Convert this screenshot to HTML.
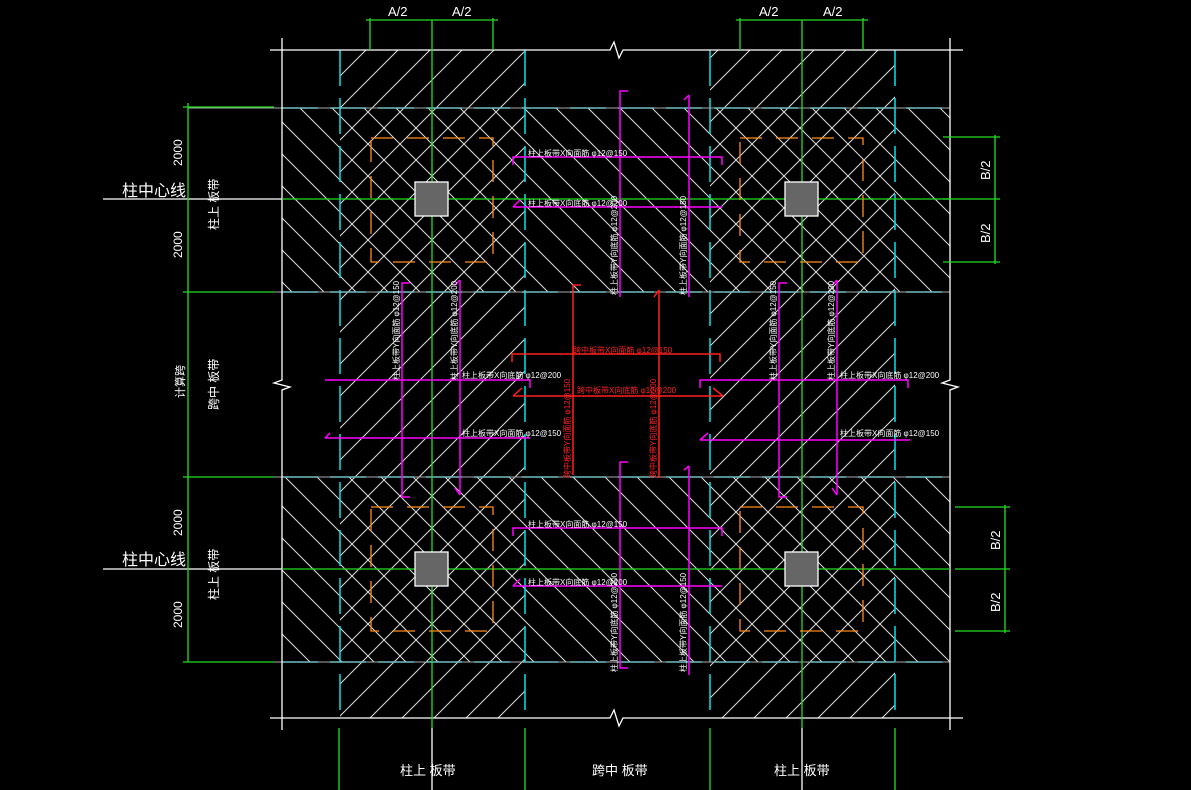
<!DOCTYPE html>
<html><head><meta charset="utf-8"><style>
html,body{margin:0;padding:0;background:#000;width:1191px;height:790px;overflow:hidden}
svg{display:block}
text{font-family:"Liberation Sans","Noto Sans CJK SC",sans-serif;fill:#fff}
</style></head><body>
<svg width="1191" height="790" viewBox="0 0 1191 790" xmlns="http://www.w3.org/2000/svg">
<defs>
<pattern id="f" width="32" height="32" patternUnits="userSpaceOnUse"><path d="M-8 8L8 -8M0 32L32 0M24 40L40 24" stroke="#ddd" stroke-width="1"/></pattern>
<pattern id="b" width="32" height="32" patternUnits="userSpaceOnUse"><path d="M-8 24L8 40M0 0L32 32M24 -8L40 8" stroke="#ddd" stroke-width="1"/></pattern>
</defs>
<rect width="1191" height="790" fill="#000"/>
<g>
<rect x="340" y="50" width="185" height="668" fill="url(#f)"/>
<rect x="710" y="50" width="185" height="668" fill="url(#f)"/>
<rect x="282" y="108" width="668" height="184" fill="url(#b)"/>
<rect x="282" y="477" width="668" height="185" fill="url(#b)"/>
</g>
<g stroke="#00e5ee" stroke-width="1.5" stroke-dasharray="36,12" fill="none">
<path d="M340 50V718M525 50V718M710 50V718M895 50V718"/>
<path d="M282 108H950M282 292H950M282 477H950M282 662H950"/>
</g>
<g stroke="#aaa" stroke-width="1">
<path d="M188 108H950M188 292H950M188 477H950M188 662H950"/>
</g>
<g stroke="#fff" stroke-width="1.3" fill="none">
<path d="M270 50H610L614 42L619 58L623 50H963"/>
<path d="M270 718H610L614 710L619 726L623 718H963"/>
<path d="M282 38V380L274 383L290 387L282 390V718"/>
<path d="M950 38V380L942 383L958 387L950 390V718"/>
<path d="M282 718V730M950 718V730"/>
<path d="M432 728V790M802 728V790"/>
<path d="M103 199H282M103 569H282"/>
</g>
<g stroke="#22dd22" stroke-width="1.3" fill="none">
<path d="M432 20V728M802 20V728"/>
<path d="M366 20H498M370 18V50M493 18V50"/>
<path d="M736 20H868M740 18V50M863 18V50"/>
<path d="M188 103V662M183 107H274M183 292H274M183 477H274M183 662H274"/>
<path d="M282 199H950M282 569H950"/>
<path d="M995 135V264M943 137H1000M943 199H1000M943 262H1000"/>
<path d="M1005 505V633M955 507H1010M955 569H1010M955 631H1010"/>
<path d="M339 728V790M525 728V790M710 728V790M895 728V790"/>
</g>
<g fill="#666" stroke="#fff" stroke-width="1.3">
<rect x="415" y="182" width="33" height="34"/><rect x="785" y="182" width="33" height="34"/>
<rect x="415" y="552" width="33" height="34"/><rect x="785" y="552" width="33" height="34"/>
</g>
<g stroke="#ff8c1a" stroke-width="1.3" fill="none" stroke-dasharray="22,14">
<rect x="371" y="138" width="122" height="124"/><rect x="740" y="138" width="123" height="124"/>
<rect x="371" y="507" width="122" height="124"/><rect x="740" y="507" width="123" height="124"/>
</g>
<g stroke="#ff00ff" stroke-width="1.5" fill="none">
<path d="M513 165V157H722V165M513 207L520 200M513 207H705M705 207L722 207"/>
<path d="M628 91H620V297M689 95V297M684 100L689 95"/>
<path d="M513 536V528H722V536M513 586L520 579M513 586H722"/>
<path d="M628 462H620V668H628M689 466V675M684 470L689 466"/>
<path d="M410 283H402V497H410M460 280V495M455 285L460 280M455 488L460 495"/>
<path d="M325 380H530V388M325 438H530M325 438L330 433"/>
<path d="M787 283H779V497H787M837 280V495M832 285L837 280M832 488L837 495"/>
<path d="M700 388V380H908V388M700 440H910M700 440L708 433"/>
</g>
<g stroke="#ff2020" stroke-width="1.5" fill="none">
<path d="M512 362V354H720V362M513 396H723M513 396L522 388M723 396L713 388"/>
<path d="M581 285H573V475M659 290V478M654 297L659 290"/>
</g>
<g font-size="8">
<text x="528" y="156">柱上板带X向面筋 φ12@150</text>
<text x="528" y="206">柱上板带X向底筋 φ12@200</text>
<text x="528" y="527">柱上板带X向面筋 φ12@150</text>
<text x="528" y="585">柱上板带X向底筋 φ12@200</text>
<text x="462" y="378">柱上板带X向底筋 φ12@200</text>
<text x="462" y="436">柱上板带X向面筋 φ12@150</text>
<text x="840" y="378">柱上板带X向底筋 φ12@200</text>
<text x="840" y="436">柱上板带X向面筋 φ12@150</text>
<text x="573" y="353" style="fill:#f22">跨中板带X向面筋 φ12@150</text>
<text x="577" y="393" style="fill:#f22">跨中板带X向底筋 φ12@200</text>
<text transform="translate(617,295) rotate(-90)">柱上板带Y向底筋 φ12@200</text>
<text transform="translate(686,295) rotate(-90)">柱上板带Y向面筋 φ12@150</text>
<text transform="translate(617,672) rotate(-90)">柱上板带Y向底筋 φ12@200</text>
<text transform="translate(686,672) rotate(-90)">柱上板带Y向面筋 φ12@150</text>
<text transform="translate(399,380) rotate(-90)">柱上板带Y向面筋 φ12@150</text>
<text transform="translate(457,380) rotate(-90)">柱上板带Y向底筋 φ12@200</text>
<text transform="translate(776,380) rotate(-90)">柱上板带Y向面筋 φ12@150</text>
<text transform="translate(834,380) rotate(-90)">柱上板带Y向底筋 φ12@200</text>
<text transform="translate(570,478) rotate(-90)" style="fill:#f22">跨中板带Y向面筋 φ12@150</text>
<text transform="translate(656,478) rotate(-90)" style="fill:#f22">跨中板带Y向底筋 φ12@200</text>
</g>
<g font-size="13">
<text x="388" y="16">A/2</text><text x="452" y="16">A/2</text>
<text x="759" y="16">A/2</text><text x="823" y="16">A/2</text>
<text transform="translate(990,180) rotate(-90)">B/2</text>
<text transform="translate(990,243) rotate(-90)">B/2</text>
<text transform="translate(1000,550) rotate(-90)">B/2</text>
<text transform="translate(1000,612) rotate(-90)">B/2</text>
<text transform="translate(182,166) rotate(-90)" font-size="12">2000</text>
<text transform="translate(182,258) rotate(-90)" font-size="12">2000</text>
<text transform="translate(182,536) rotate(-90)" font-size="12">2000</text>
<text transform="translate(182,628) rotate(-90)" font-size="12">2000</text>
<text x="122" y="196" font-size="16">柱中心线</text>
<text x="122" y="565" font-size="16">柱中心线</text>
<text transform="translate(218,230) rotate(-90)" font-size="12">柱上 板带</text>
<text transform="translate(218,600) rotate(-90)" font-size="12">柱上 板带</text>
<text transform="translate(218,410) rotate(-90)" font-size="12">跨中 板带</text>
<text transform="translate(184,398) rotate(-90)" font-size="11">计算跨</text>
<text x="400" y="775" font-size="13">柱上 板带</text>
<text x="592" y="775" font-size="13">跨中 板带</text>
<text x="774" y="775" font-size="13">柱上 板带</text>
</g>
</svg>
</body></html>
